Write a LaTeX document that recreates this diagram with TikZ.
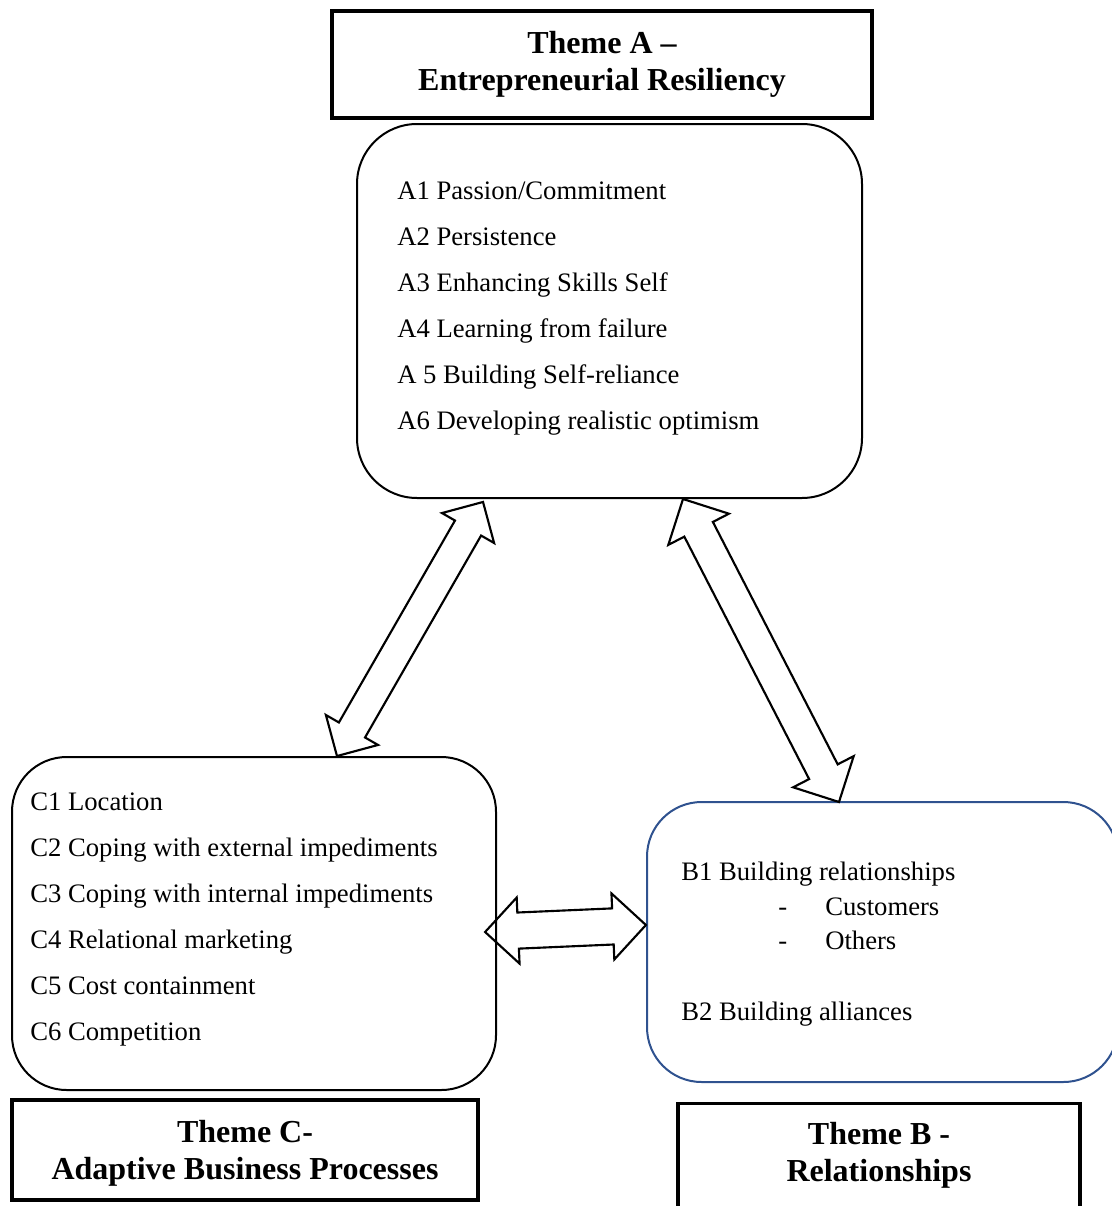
\documentclass[tikz,border=0pt]{standalone}
\usepackage{fontspec}
\setmainfont{Liberation Serif}
\usetikzlibrary{shapes.arrows, positioning}
\definecolor{boxblue}{RGB}{47,82,143}

\begin{document}
\begin{tikzpicture}[x=0.75pt, y=-0.75pt,
    theme/.style={rectangle, draw, line width=2.4pt, align=center, font=\fontsize{24}{27.75}\selectfont\bfseries},
    group/.style={rectangle, draw, line width=1.5pt, rounded corners=45pt},
    item/.style={anchor=base west, inner sep=0pt, font=\fontsize{20}{24}\selectfont},
    link/.style={double arrow, draw, line width=1.6pt, inner sep=0pt, sloped, midway}
]
    \useasboundingbox (0,0) rectangle (1112,1206);

    % Theme A
    \node[theme, minimum width=405pt, minimum height=80.25pt] (themeA) at (602,64.5)
        {Theme A --\\Entrepreneurial Resiliency};
    \node[group, minimum width=378.75pt, minimum height=280.5pt] (boxA) at (609.5,311) {};
    \foreach \t [count=\i from 0] in {A1 Passion/Commitment, A2 Persistence,
        A3 Enhancing Skills Self, A4 Learning from failure,
        A 5 Building Self-reliance, A6 Developing realistic optimism}
        \node[item] (a\i) at (397,199+46*\i) {\t};

    % Theme C
    \node[group, rounded corners=41pt, minimum width=363pt, minimum height=249.75pt] (boxC) at (254,923.5) {};
    \foreach \t [count=\i from 0] in {C1 Location, C2 Coping with external impediments,
        C3 Coping with internal impediments, C4 Relational marketing,
        C5 Cost containment, C6 Competition}
        \node[item] (c\i) at (30,810+46*\i) {\t};
    \node[theme, minimum width=349.5pt, minimum height=75pt] (themeC) at (245,1150) {};
    \node[theme, draw=none] (themeCtext) at (245,1153) {Theme C-\\Adaptive Business Processes};

    % Theme B
    \node[group, draw=boxblue, rounded corners=41pt, minimum width=353.25pt, minimum height=210pt] (boxB) at (882.5,942) {};
    \node[item] (b1) at (681,880) {B1 Building relationships};
    \node[item] (dash1) at (778,915) {-};
    \node[item] (cust) at (825,915) {Customers};
    \node[item] (dash2) at (778,949) {-};
    \node[item] (oth) at (825,949) {Others};
    \node[item] (b2) at (681,1020) {B2 Building alliances};
    \node[theme, minimum width=301.5pt, minimum height=105pt, anchor=north] (themeB) at (879,1102) {};
    \node[theme, draw=none] (themeBtext) at (879,1155) {Theme B -\\Relationships};

    % Arrows
    \coordinate (acTop) at (483,502);
    \coordinate (acBot) at (337,756);
    \coordinate (abTop) at (683,499);
    \coordinate (abBot) at (839,802);
    \coordinate (cbLeft) at (485,932);
    \coordinate (cbRight) at (646,925);
    \path (acTop) -- (acBot) node[link, minimum height=219.8pt, inner ysep=10.5pt, double arrow head extend=11.25pt] (arrowAC) {};
    \path (abTop) -- (abBot) node[link, minimum height=255.6pt, inner ysep=11.25pt, double arrow head extend=13.5pt] (arrowAB) {};
    \path (cbLeft) -- (cbRight) node[link, minimum height=120.75pt, inner ysep=12.75pt, double arrow head extend=11.25pt] (arrowCB) {};

\end{tikzpicture}
\end{document}
